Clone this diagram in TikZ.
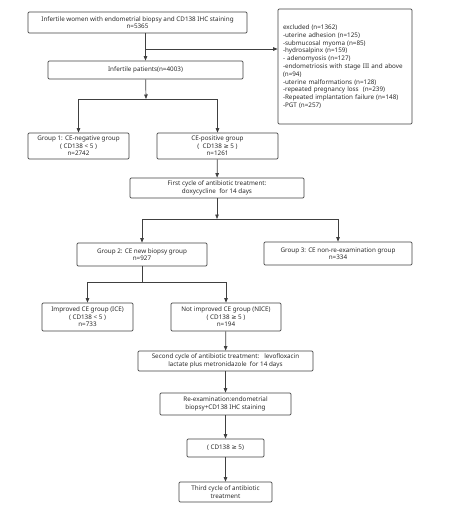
\documentclass[tikz,border=0pt]{standalone}
\usepackage{fontspec}
\setmainfont{Noto Sans}
\newfontfamily\symfont{DejaVu Sans}
\newcommand{\gesign}{{\symfont ≥}}
\usetikzlibrary{arrows.meta}
\definecolor{linegray}{HTML}{404040}
\definecolor{textgray}{HTML}{2A2A2A}
\begin{document}
\begin{tikzpicture}[x=1pt, y=-1pt,
    box/.style={draw=linegray, rectangle, rounded corners=1.2pt, line width=0.7pt,
        align=center, inner sep=1pt, text=textgray,
        font=\fontsize{6.3}{7.5}\selectfont},
    arr/.style={-{Triangle[length=4.5pt, width=3.5pt]}, draw=linegray, line width=0.7pt},
    ln/.style={draw=linegray, line width=0.7pt}]
    \useasboundingbox (0, 0) rectangle (454, 507);
    % Nodes
    \node[box, minimum width=219, minimum height=21] (W) at (137.5, 22.5)
        {Infertile women with endometrial biopsy and CD138 IHC staining\\n=5365};
    \node[box, text width=124, inner xsep=5pt, minimum height=115, align=left,
        font=\fontsize{6.3}{7.8}\selectfont] (X) at (345, 66.5)
        {excluded (n=1362)\\-uterine adhesion (n=125)\\-submucosal myoma (n=85)\\-hydrosalpinx (n=159)\\- adenomyosis (n=127)\\-endometriosis with stage I{}I{}I and above\\(n=94)\\-uterine malformations (n=128)\\-repeated pregnancy loss\ \ (n=239)\\-Repeated implantation failure (n=148)\\-PGT (n=257)};
    \node[box, minimum width=195, minimum height=18] (P) at (145.5, 70) {Infertile patients(n=4003)};
    \node[box, minimum width=101, minimum height=26] (G1) at (78.5, 146)
        {Group 1: CE-negative group\\( CD138 < 5 )\\n=2742};
    \node[box, minimum width=121, minimum height=26] (CP) at (217.5, 146)
        {CE-positive group\\(\ \ CD138 \gesign{} 5 )\\n=1261};
    \node[box, minimum width=174, minimum height=20] (C1) at (217, 188)
        {First cycle of antibiotic treatment:\\doxycycline\ \ for 14 days};
    \node[box, minimum width=130, minimum height=23] (G2) at (142, 254.5)
        {Group 2: CE new biopsy group\\n=927};
    \node[box, minimum width=148, minimum height=23] (G3) at (338, 253.5)
        {Group 3: CE non-re-examination group\\n=334};
    \node[box, minimum width=91, minimum height=28] (ICE) at (87.5, 317)
        {Improved CE group (ICE)\\( CD138 < 5 )\\n=733};
    \node[box, minimum width=110, minimum height=28] (NICE) at (226, 317)
        {Not improved CE group (NICE)\\( CD138 \gesign{} 5 )\\n=194};
    \node[box, minimum width=175, minimum height=20] (C2) at (225.5, 361)
        {Second cycle of antibiotic treatment:\ \ \ levofloxacin\\lactate plus metronidazole\ \ for 14 days};
    \node[box, minimum width=131, minimum height=22] (R) at (225.5, 404)
        {Re-examination:endometrial\\biopsy+CD138 IHC staining};
    \node[box, minimum width=77, minimum height=18] (CD) at (225.5, 448) {( CD138 \gesign{} 5)};
    \node[box, minimum width=93, minimum height=20] (C3) at (225.5, 492)
        {Third cycle of antibiotic\\treatment};
    \coordinate (b1) at (146, 49);
    \coordinate (s1) at (146, 99);
    \coordinate (s2) at (217, 219);
    \coordinate (s3) at (142, 282);

    % Edges
    \draw[arr] (P.north |- W.south) -- (P.north);
    \draw[arr] (b1) -- (b1 -| X.west);
    \draw[arr] (P) -- (s1);
    \draw[arr] (s1) -| (G1.north);
    \draw[arr] (s1) -| (CP.north);
    \draw[arr] (CP) -- (C1);
    \draw[arr] (C1) -- (s2);
    \draw[arr] (s2) -| (G2.north);
    \draw[arr] (s2) -| (G3.north);
    \draw[ln] (G2) -- (s3);
    \draw[arr] (s3) -| (ICE.north);
    \draw[arr] (s3) -| (NICE.north);
    \draw[arr] (NICE) -- (C2);
    \draw[arr] (C2) -- (R);
    \draw[arr] (R) -- (CD);
    \draw[arr] (CD) -- (C3);
\end{tikzpicture}
\end{document}
